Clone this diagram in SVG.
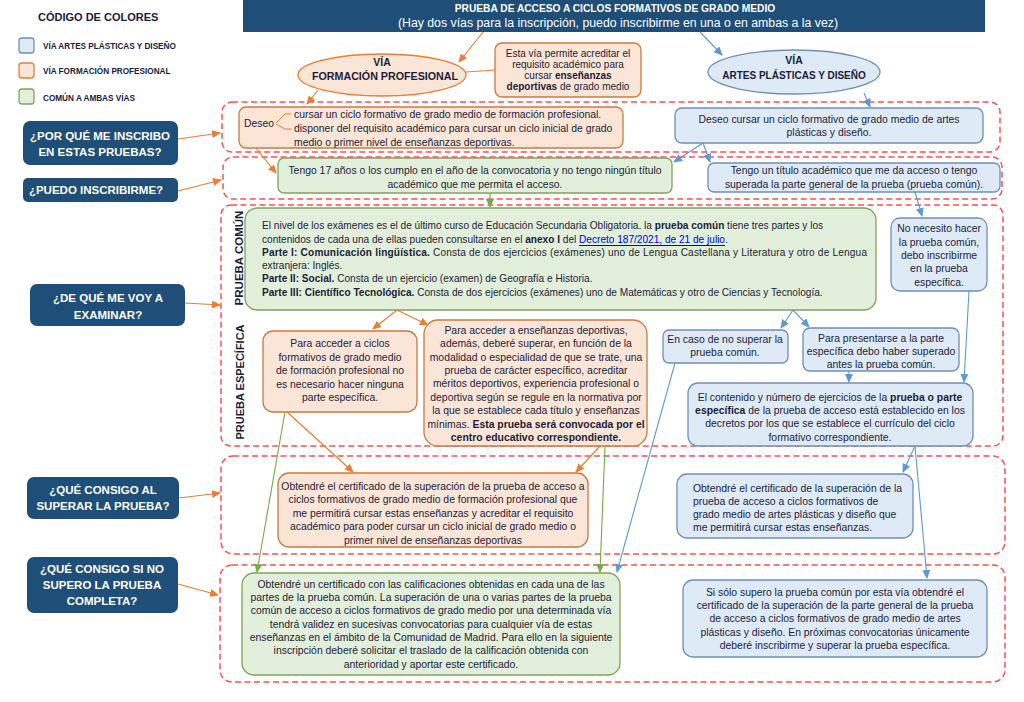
<svg xmlns="http://www.w3.org/2000/svg" width="1024" height="702" viewBox="0 0 1024 702">
<style>
text{font-family:"Liberation Sans",Arial,sans-serif;fill:#1c1c3a;dominant-baseline:central}
.t{font-size:10.4px}
.t2{font-size:10.1px}
.c{text-anchor:middle}
.b{font-weight:bold}
.q{font-size:11.5px;font-weight:bold;fill:#fff;text-anchor:middle}
.grp{fill:none;stroke:#ff5050;stroke-width:1.5;stroke-dasharray:6 3.5}
.or{fill:#fbe5d6;stroke:#c97a45;stroke-width:1.3}
.gr{fill:#e2efda;stroke:#7fa35f;stroke-width:1.3}
.bl{fill:#deebf7;stroke:#6f8fb8;stroke-width:1.3}
.nv{fill:#1f4e79}
.ao{stroke:#ed7d31;stroke-width:1.2;fill:none;marker-end:url(#mo)}
.ab{stroke:#5b9bd5;stroke-width:1.1;fill:none;marker-end:url(#mb)}
.ag{stroke:#70ad47;stroke-width:1.1;fill:none;marker-end:url(#mg)}
.lo{stroke:#ed7d31;stroke-width:1.2;fill:none}
.lk{fill:#0000ee;text-decoration:underline}
</style>
<defs>
<marker id="mo" markerWidth="9" markerHeight="8" refX="8" refY="4" orient="auto" markerUnits="userSpaceOnUse"><path d="M0,0 L9,4 L0,8 z" fill="#ed7d31"/></marker>
<marker id="mb" markerWidth="9" markerHeight="8" refX="8" refY="4" orient="auto" markerUnits="userSpaceOnUse"><path d="M0,0 L9,4 L0,8 z" fill="#5b9bd5"/></marker>
<marker id="mg" markerWidth="9" markerHeight="8" refX="8" refY="4" orient="auto" markerUnits="userSpaceOnUse"><path d="M0,0 L9,4 L0,8 z" fill="#70ad47"/></marker>
</defs>

<g id="legend">
<text x="38" y="17" class="b" style="font-size:11px">CÓDIGO DE COLORES</text>
<rect x="19" y="38" width="15" height="15" rx="3" class="bl"/>
<rect x="19" y="63" width="15" height="15" rx="3" class="or" style="stroke:#ed7d31"/>
<rect x="19" y="89" width="15" height="15" rx="3" class="gr"/>
<text x="43" y="46" class="b" style="font-size:8.2px">VÍA ARTES  PLÁSTICAS Y DISEÑO</text>
<text x="43" y="71" class="b" style="font-size:8.2px">VÍA FORMACIÓN PROFESIONAL</text>
<text x="43" y="98" class="b" style="font-size:8.2px">COMÚN A AMBAS VÍAS</text>
</g>

<g id="header">
<rect x="243" y="0" width="742" height="32" class="nv"/>
<text x="615" y="8" class="b c" style="font-size:10.2px;fill:#fff">PRUEBA DE ACCESO A CICLOS FORMATIVOS DE GRADO MEDIO</text>
<text x="618" y="23" class="c" style="font-size:12.3px;fill:#fff">(Hay dos vías para la inscripción, puedo inscribirme en una o en ambas a la vez)</text>
</g>

<g id="groups">
<rect x="222" y="102" width="778" height="50" rx="10" class="grp"/>
<rect x="223" y="157" width="779" height="42" rx="10" class="grp"/>
<rect x="221" y="205" width="782" height="241" rx="10" class="grp"/>
<rect x="221" y="456" width="784" height="98" rx="12" class="grp"/>
<rect x="220" y="565" width="785" height="117" rx="12" class="grp"/>
</g>

<g id="q1"><rect x="23" y="121" width="155" height="44" rx="7" class="nv"/><text x="100" y="136" class="q">¿POR QUÉ ME INSCRIBO</text><text x="100" y="152" class="q">EN ESTAS PRUEBAS?</text></g>
<g id="q2"><rect x="23" y="178" width="155" height="24" rx="5" class="nv"/><text x="96" y="190" class="q">¿PUEDO INSCRIBIRME?</text></g>
<g id="q3"><rect x="30" y="284" width="155" height="42" rx="7" class="nv"/><text x="108" y="298" class="q">¿DE QUÉ ME VOY A</text><text x="108" y="315" class="q">EXAMINAR?</text></g>
<g id="q4"><rect x="27" y="477" width="152" height="42" rx="7" class="nv"/><text x="103" y="490" class="q">¿QUÉ CONSIGO AL</text><text x="103" y="506" class="q">SUPERAR LA PRUEBA?</text></g>
<g id="q5"><rect x="27" y="557" width="151" height="56" rx="7" class="nv"/><text x="102" y="569" class="q">¿QUÉ CONSIGO SI NO</text><text x="102" y="585" class="q">SUPERO LA PRUEBA</text><text x="102" y="601" class="q">COMPLETA?</text></g>

<g id="labels">
<text transform="translate(239,258) rotate(-90)" class="b c" style="font-size:11.5px">PRUEBA COMÚN</text>
<text transform="translate(240,382) rotate(-90)" class="b c" style="font-size:11px">PRUEBA ESPECÍFICA</text>
</g>

<g id="via-fp">
<ellipse cx="382" cy="75" rx="84" ry="21" class="or" style="stroke:#ed7d31"/>
<text x="382" y="62" class="b c" style="font-size:10.5px">VÍA</text>
<text x="385" y="76" class="b c" style="font-size:10.7px">FORMACIÓN PROFESIONAL</text>
</g>
<g id="nota-fp">
<rect x="495" y="43" width="146" height="54" rx="7" class="or"/>
<text class="c" style="font-size:10px"><tspan x="568" y="53">Esta vía permite acreditar el</tspan><tspan x="568" y="64">requisito académico para</tspan><tspan x="568" y="75">cursar <tspan class="b">enseñanzas</tspan></tspan><tspan x="568" y="86"><tspan class="b">deportivas</tspan> de grado medio</tspan></text>
</g>
<g id="via-apd">
<ellipse cx="794" cy="72" rx="86" ry="22" class="bl"/>
<text x="794" y="60" class="b c" style="font-size:10.5px">VÍA</text>
<text x="794" y="75" class="b c" style="font-size:10px">ARTES PLÁSTICAS Y DISEÑO</text>
</g>

<g id="deseo-fp">
<rect x="239" y="107" width="384" height="41" rx="7" class="or"/>
<text x="244" y="123" class="t">Deseo</text>
<text class="t"><tspan x="294" y="114">cursar un ciclo formativo de grado medio de formación profesional.</tspan><tspan x="294" y="128">disponer del requisito académico para cursar un ciclo inicial de grado</tspan><tspan x="294" y="142">medio o primer nivel de enseñanzas deportivas.</tspan></text>
<path d="M276,123 L285,114 L291,114 M276,124 L285,129 L291,129" fill="none" stroke="#ed7d31" stroke-width="1"/>
</g>
<g id="deseo-apd">
<rect x="675" y="108" width="308" height="35" rx="7" class="bl"/>
<text class="t c"><tspan x="829" y="119">Deseo cursar un ciclo formativo de grado medio de artes</tspan><tspan x="829" y="132">plásticas y diseño.</tspan></text>
</g>

<g id="edad">
<rect x="278" y="158" width="394" height="35" rx="6" class="gr"/>
<text class="t c"><tspan x="475" y="170">Tengo 17 años o los cumplo en el año de la convocatoria y no tengo ningún título</tspan><tspan x="475" y="184">académico que me permita el acceso.</tspan></text>
</g>
<g id="titulo">
<rect x="708" y="163" width="292" height="29" rx="6" class="bl"/>
<text class="t c"><tspan x="854" y="170">Tengo un título académico que me da acceso o tengo</tspan><tspan x="854" y="184">superada la parte general de la prueba (prueba común).</tspan></text>
</g>

<g id="comun">
<rect x="245" y="208" width="631" height="102" rx="12" class="gr"/>
<text class="t2"><tspan x="262" y="225">El nivel de los exámenes es el de último curso de Educación Secundaria Obligatoria. la <tspan class="b">prueba común</tspan> tiene tres partes y los</tspan></text>
<text class="t2"><tspan x="262" y="239">contenidos de cada una de ellas pueden consultarse en el <tspan class="b">anexo I</tspan> del <tspan class="lk">Decreto 187/2021, de 21 de julio</tspan>.</tspan></text>
<text class="t2" x="262" y="252" textLength="605" lengthAdjust="spacing"><tspan class="b">Parte I: Comunicación lingüística.</tspan> Consta de dos ejercicios (exámenes) uno de Lengua Castellana y Literatura y otro de Lengua</text>
<text class="t2" x="262" y="265">extranjera: Inglés.</text>
<text class="t2" x="262" y="278"><tspan class="b">Parte II: Social.</tspan> Consta de un ejercicio (examen) de Geografía e Historia.</text>
<text class="t2" x="262" y="292"><tspan class="b">Parte III: Científico Tecnológica.</tspan> Consta de dos ejercicios (exámenes) uno de Matemáticas y otro de Ciencias y Tecnología.</text>
</g>

<g id="no-necesito">
<rect x="891" y="218" width="96" height="73" rx="9" class="bl"/>
<text class="t c"><tspan x="939" y="228">No necesito hacer</tspan><tspan x="939" y="242">la prueba común,</tspan><tspan x="939" y="255">debo inscribirme</tspan><tspan x="939" y="268">en la prueba</tspan><tspan x="939" y="282">específica.</tspan></text>
</g>

<g id="esp-fp">
<rect x="263" y="331" width="154" height="81" rx="10" class="or"/>
<text class="t c"><tspan x="340" y="343">Para acceder a ciclos</tspan><tspan x="340" y="357">formativos de grado medio</tspan><tspan x="340" y="370">de formación profesional no</tspan><tspan x="340" y="384">es necesario hacer ninguna</tspan><tspan x="340" y="397">parte específica.</tspan></text>
</g>
<g id="esp-dep">
<rect x="424" y="320" width="223" height="126" rx="14" class="or"/>
<text class="t c"><tspan x="536" y="330">Para acceder a enseñanzas deportivas,</tspan><tspan x="536" y="343">además, deberé superar, en función de la</tspan><tspan x="536" y="357">modalidad o especialidad de que se trate, una</tspan><tspan x="536" y="370">prueba de carácter específico, acreditar</tspan><tspan x="536" y="383">méritos deportivos, experiencia profesional o</tspan><tspan x="536" y="397">deportiva según se regule en la normativa por</tspan><tspan x="536" y="410">la que se establece cada título y enseñanzas</tspan><tspan x="536" y="424">mínimas. <tspan class="b">Esta prueba será convocada por el</tspan></tspan><tspan x="536" y="437" class="b">centro educativo correspondiente.</tspan></text>
</g>

<g id="no-superar">
<rect x="663" y="330" width="125" height="33" rx="6" class="bl"/>
<text class="t c"><tspan x="725" y="339">En caso de no superar la</tspan><tspan x="725" y="352">prueba común.</tspan></text>
</g>
<g id="presentarse">
<rect x="803" y="328" width="156" height="43" rx="7" class="bl"/>
<text class="t c"><tspan x="881" y="338">Para presentarse a la parte</tspan><tspan x="881" y="351">específica debo haber superado</tspan><tspan x="881" y="364">antes la prueba común.</tspan></text>
</g>
<g id="contenido">
<rect x="688" y="383" width="285" height="63" rx="10" class="bl"/>
<text class="t c"><tspan x="830" y="397">El contenido y número de ejercicios de la <tspan class="b">prueba o parte</tspan></tspan><tspan x="830" y="410"><tspan class="b">específica</tspan> de la prueba de acceso está establecido en los</tspan><tspan x="830" y="423">decretos por los que se establece el currículo del ciclo</tspan><tspan x="830" y="437">formativo correspondiente.</tspan></text>
</g>

<g id="cert-fp">
<rect x="278" y="473" width="310" height="74" rx="11" class="or"/>
<text class="t c"><tspan x="433" y="486">Obtendré el certificado de la superación de la prueba de acceso a</tspan><tspan x="433" y="499">ciclos formativos de grado medio de formación profesional que</tspan><tspan x="433" y="513">me permitirá cursar estas enseñanzas y acreditar el requisito</tspan><tspan x="433" y="526">académico para poder cursar un ciclo inicial de grado medio o</tspan><tspan x="433" y="540">primer nivel de enseñanzas deportivas</tspan></text>
</g>
<g id="cert-apd">
<rect x="677" y="474" width="236" height="64" rx="10" class="bl"/>
<text class="t"><tspan x="693" y="488">Obtendré el certificado de la superación de la</tspan><tspan x="693" y="501">prueba de acceso a ciclos formativos de</tspan><tspan x="693" y="514">grado medio de artes plásticas y diseño que</tspan><tspan x="693" y="527">me permitirá cursar estas enseñanzas.</tspan></text>
</g>

<g id="cert-comun">
<rect x="242" y="573" width="378" height="102" rx="12" class="gr"/>
<text class="t c"><tspan x="431" y="584">Obtendré un certificado con las calificaciones obtenidas en cada una de las</tspan><tspan x="431" y="597">partes de la prueba común. La superación de una o varias partes de la prueba</tspan><tspan x="431" y="610">común de acceso a ciclos formativos de grado medio por una determinada vía</tspan><tspan x="431" y="624">tendrá validez en sucesivas convocatorias para cualquier vía de estas</tspan><tspan x="431" y="637">enseñanzas en el ámbito de la Comunidad de Madrid. Para ello en la siguiente</tspan><tspan x="431" y="650">inscripción deberé solicitar el traslado de la calificación obtenida con</tspan><tspan x="431" y="664">anterioridad y aportar este certificado.</tspan></text>
</g>
<g id="solo-comun">
<rect x="683" y="580" width="304" height="77" rx="10" class="bl"/>
<text class="t c"><tspan x="835" y="592">Si sólo supero la prueba común por esta vía obtendré el</tspan><tspan x="835" y="605">certificado de la superación de la parte general de la prueba</tspan><tspan x="835" y="618">de acceso a ciclos formativos de grado medio de artes</tspan><tspan x="835" y="632">plásticas y diseño. En próximas convocatorias únicamente</tspan><tspan x="835" y="645">deberé inscribirme y superar la prueba específica.</tspan></text>
</g>

<g id="connectors">
<line x1="178" y1="139" x2="220" y2="133" class="ao"/>
<line x1="178" y1="191" x2="221" y2="180" class="ao"/>
<line x1="185" y1="303" x2="220" y2="305" class="ao"/>
<line x1="179" y1="498" x2="220" y2="493" class="ao"/>
<line x1="178" y1="584" x2="218" y2="595" class="ao"/>
<line x1="483" y1="32" x2="459" y2="62" class="ao"/>
<line x1="700" y1="32" x2="722" y2="55" class="ab"/>
<line x1="466" y1="72" x2="495" y2="70" class="lo"/>
<line x1="318" y1="90" x2="307" y2="104" class="ao"/>
<line x1="864" y1="93" x2="870" y2="107" class="ab"/>
<line x1="256" y1="148" x2="276" y2="173" class="ao"/>
<line x1="703" y1="143" x2="674" y2="162" class="ab"/>
<line x1="703" y1="143" x2="710" y2="162" class="ab"/>
<line x1="915" y1="192" x2="922" y2="216" class="ab"/>
<line x1="490" y1="193" x2="490" y2="207" class="ag"/>
<line x1="793" y1="310" x2="781" y2="328" class="ab"/>
<line x1="793" y1="310" x2="809" y2="327" class="ab"/>
<line x1="397" y1="310" x2="373" y2="329" class="ao"/>
<line x1="397" y1="310" x2="428" y2="325" class="ao"/>
<line x1="849" y1="371" x2="849" y2="382" class="ab"/>
<line x1="969" y1="291" x2="964" y2="382" class="ab"/>
<line x1="675" y1="363" x2="617" y2="572" class="ab"/>
<line x1="915" y1="446" x2="903" y2="472" class="ab"/>
<line x1="915" y1="446" x2="927" y2="578" class="ab"/>
<line x1="285" y1="412" x2="257" y2="572" class="ag"/>
<line x1="287" y1="412" x2="353" y2="472" class="ao"/>
<line x1="600" y1="446" x2="576" y2="472" class="ao"/>
<line x1="605" y1="446" x2="600" y2="572" class="ag"/>
</g>
</svg>
